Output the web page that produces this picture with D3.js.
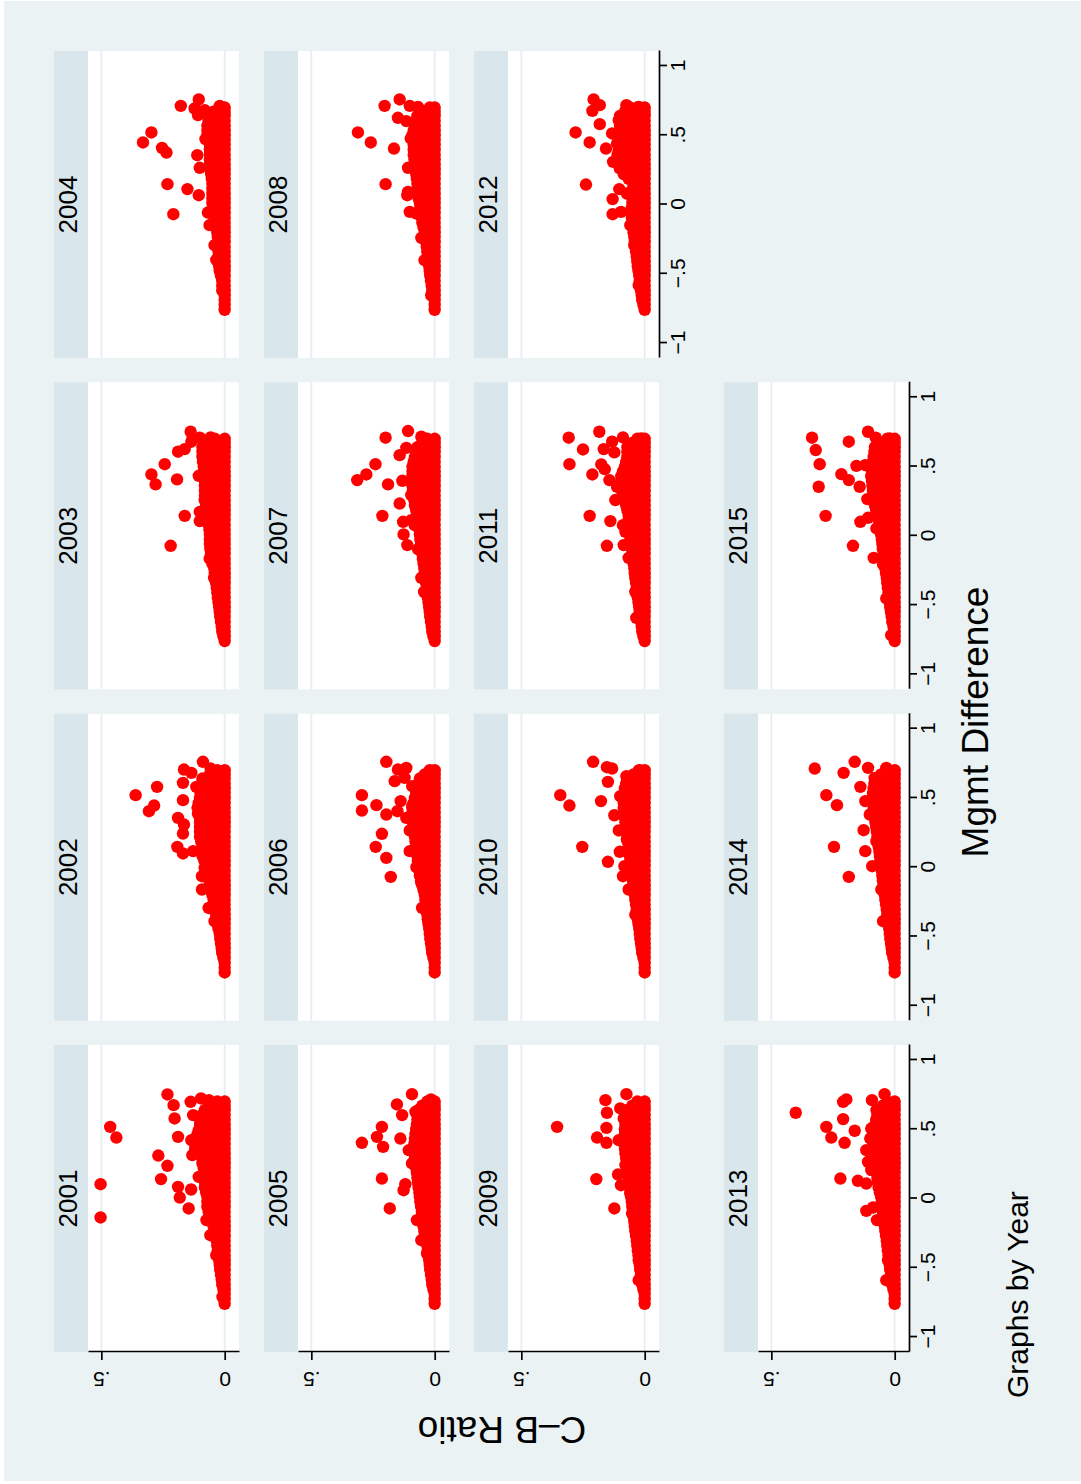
<!DOCTYPE html>
<html><head><meta charset="utf-8">
<script src="https://cdn.jsdelivr.net/npm/d3@7"></script>
<style>body{margin:0;background:#fff}svg{display:block}text{font-family:"Liberation Sans",Arial,sans-serif;fill:#000}</style>
</head><body>
<svg id="chart" width="1081" height="1484"></svg>
<script>
// ---- data: each row = [mgmt difference, C-B ratio, (more C-B ratios at the same mgmt value)...]
const years = [2001,2002,2003,2004,2005,2006,2007,2008,2009,2010,2011,2012,2013,2014,2015];
const y2001 = [[-.76,0],[-.69,0],[-.62,0,.01],[-.55,0,.015],[-.48,0,.02],[-.41,0,.025],[-.34,0,.03],[-.27,0,.035],[-.2,0,.045],[-.13,0,.03,.06],[-.06,0,.03,.07],[.01,0,.03,.07],[.08,0,.03,.08],[.15,0,.03,.08],[.22,0,.03,.06,.085],[.29,0,.03,.06,.09],[.36,0,.03,.06,.1,.12],[.43,0,.03,.06,.1,.12],[.5,0,.03,.06,.1],[.57,0,.03,.06,.1],[.64,0,.03,.08],[.7,0,.03],
[-.725,0],[-.655,0,.005],[-.585,0,.012],[-.515,0,.018],[-.445,0,.022],[-.375,0,.028],[-.305,0,.015,.032],[-.235,0,.015,.038],
[-.165,0,.015,.05],[-.095,0,.015,.045,.065],[-.025,0,.015,.045,.07],[.045,0,.015,.045,.075],[.115,0,.015,.045,.08],[.185,0,.015,.045,.08],[.255,0,.015,.045,.075,.09],[.325,0,.015,.045,.075,.1],[.395,0,.015,.045,.075,.12],[.465,0,.015,.045,.075,.11],[.535,0,.015,.045,.075,.1],[.605,0,.015,.045,.075,.09],[.67,0,.015,.045,.06],
[-.137,.503],[.103,.503],[.517,.464],[.44,.439],[.31,.269],[.236,.232],[.14,.258],[.751,.232],[.674,.207],[.578,.203],[.445,.189],[.084,.189],[.007,.182],[-.072,.146],[.698,.138],[.602,.128],[.722,.096],[.71,.064],[.065,.136],[.156,.105],[.313,.131],[.421,.135],[.493,.105],[-.156,.074],[-.265,.058],[-.409,.034],[-.71,.009]];
const y2002 = [[-.76,0],[-.69,0],[-.62,0,.01],[-.55,0,.015],[-.48,0,.02],[-.41,0,.03],[-.34,0,.035],[-.27,0,.04],[-.2,0,.03,.05],[-.13,0,.03,.06],[-.06,0,.03,.065],[.01,0,.03,.075],[.08,0,.03,.06,.09],[.15,0,.03,.06,.09],[.22,0,.03,.06,.1],[.29,0,.03,.06,.1],[.36,0,.03,.06,.1],[.43,0,.03,.06,.11],[.5,0,.03,.06,.1],[.57,0,.03,.06,.095],[.64,0,.03,.06,.09],[.7,0,.03],
[-.725,0],[-.655,0,.005],[-.585,0,.012],[-.515,0,.018],[-.445,0,.025],[-.375,0,.015,.032],[-.305,0,.015,.038],[-.235,0,.015,.045],
[-.165,0,.015,.055],[-.095,0,.015,.045,.062],[-.025,0,.015,.045,.07],[.045,0,.015,.045,.082],[.115,0,.015,.045,.075,.09],[.185,0,.015,.045,.075,.095],[.255,0,.015,.045,.075,.1],[.325,0,.015,.045,.075,.1],[.395,0,.015,.045,.075,.105],[.465,0,.015,.045,.075,.105],[.535,0,.015,.045,.075,.098],[.605,0,.015,.045,.075,.092],[.67,0,.015,.045,.06],
[.52,.361],[.58,.274],[.404,.307],[.445,.286],[.705,.165],[.681,.135],[.761,.088],[.712,.057],[.609,.169],[.58,.115],[.484,.169],[.356,.189],[.308,.165],[.243,.169],[.147,.192],[.099,.169],[.116,.128],[-.065,.092],[-.161,.092],[-.294,.065],[.385,.108],[.633,.088],[-.005,.081],[-.39,.041]];
const y2003 = [[-.76,0],[-.69,0,.01],[-.62,0,.015],[-.55,0,.02],[-.48,0,.025],[-.41,0,.03],[-.34,0,.035],[-.27,0,.04],[-.2,0,.03,.05],[-.13,0,.03,.055],[-.06,0,.03,.06],[.01,0,.03,.06],[.08,0,.03,.065],[.15,0,.03,.07],[.22,0,.03,.075],[.29,0,.03,.08],[.36,0,.03,.08],[.43,0,.03,.08],[.5,0,.03,.06,.085],[.57,0,.03,.06,.09],[.64,0,.03,.06,.09],[.7,0,.04],
[-.725,0,.005],[-.655,0,.012],[-.585,0,.018],[-.515,0,.022],[-.445,0,.028],[-.375,0,.015,.032],[-.305,0,.015,.038],[-.235,0,.015,.042],
[-.165,0,.015,.052],[-.095,0,.015,.058],[-.025,0,.015,.045,.06],[.045,0,.015,.045,.062],[.115,0,.015,.045,.068],[.185,0,.015,.045,.072],[.255,0,.015,.045,.078],[.325,0,.015,.045,.08],[.395,0,.015,.045,.08],[.465,0,.015,.045,.082],[.535,0,.015,.045,.088],[.605,0,.015,.045,.075,.09],[.67,0,.015,.045,.07],
[.751,.138],[.708,.101],[.679,.135],[.71,.057],[.607,.189],[.626,.162],[.517,.243],[.443,.297],[.371,.28],[.407,.193],[.433,.105],[.144,.162],[.173,.101],[.106,.101],[-.072,.219],[-.164,.061],[-.303,.043],[.258,.081]];
const y2004 = [[-.76,0],[-.69,0],[-.62,0,.01],[-.55,0,.01],[-.48,0,.02],[-.41,0,.025],[-.34,0,.025],[-.27,0,.025],[-.2,0,.03],[-.13,0,.04],[-.06,0,.045],[.01,0,.025,.05],[.08,0,.025,.05],[.15,0,.025,.05],[.22,0,.03,.055],[.29,0,.03,.06],[.36,0,.03,.06],[.43,0,.03,.06],[.5,0,.03,.07],[.57,0,.03,.07],[.64,0,.03,.06],[.7,0,.02],
[-.725,0],[-.655,0],[-.585,0,.01],[-.515,0,.015],[-.445,0,.022],[-.375,0,.025],[-.305,0,.025],[-.235,0,.028],
[-.165,0,.015,.035],[-.095,0,.015,.042],[-.025,0,.015,.048],[.045,0,.015,.05],[.115,0,.015,.05],[.185,0,.015,.052],[.255,0,.015,.058],[.325,0,.015,.045,.06],[.395,0,.015,.045,.06],[.465,0,.015,.045,.065],[.535,0,.015,.045,.07],[.605,0,.015,.045,.065],[.67,0,.015,.045],
[.712,.178],[.758,.105],[.52,.297],[.448,.331],[.409,.254],[.375,.236],[.147,.232],[.111,.151],[.067,.105],[-.07,.208],[-.058,.068],[-.149,.061],[.356,.111],[.265,.101],[.472,.078],[.693,.122],[.645,.108],[.681,.081],[.712,.02],[-.294,.041],[-.4,.034]];
const y2005 = [[-.76,0],[-.69,0],[-.62,0,.01],[-.55,0,.015],[-.48,0,.02],[-.41,0,.025],[-.34,0,.03],[-.27,0,.04],[-.2,0,.045],[-.13,0,.03,.05],[-.06,0,.03,.055],[.01,0,.03,.06],[.08,0,.03,.065],[.15,0,.03,.07],[.22,0,.03,.075],[.29,0,.03,.08],[.36,0,.03,.06,.085],[.43,0,.03,.08],[.5,0,.03,.075],[.57,0,.03,.07],[.64,0,.03,.065],[.7,0,.03],
[-.725,0],[-.655,0,.005],[-.585,0,.012],[-.515,0,.018],[-.445,0,.022],[-.375,0,.028],[-.305,0,.015,.032],[-.235,0,.015,.042],
[-.165,0,.015,.048],[-.095,0,.015,.052],[-.025,0,.015,.058],[.045,0,.015,.045,.062],[.115,0,.015,.045,.068],[.185,0,.015,.045,.072],[.255,0,.015,.045,.078],[.325,0,.015,.045,.082],[.395,0,.015,.045,.082],[.465,0,.015,.045,.078],[.535,0,.015,.045,.072],[.605,0,.015,.045,.068],[.67,0,.015,.05],
[.753,.092],[.679,.153],[.602,.132],[.517,.214],[.445,.234],[.402,.295],[.373,.209],[.433,.139],[.349,.105],[.144,.214],[.103,.119],[.06,.126],[-.072,.182],[-.156,.072],[-.301,.054],[.715,.015],[.626,.078],[.253,.092],[-.397,.031]];
const y2006 = [[-.76,0],[-.69,0],[-.62,0,.01],[-.55,0,.015],[-.48,0,.02],[-.41,0,.025],[-.34,0,.03],[-.27,0,.035],[-.2,0,.04],[-.13,0,.03,.05],[-.06,0,.03,.06],[.01,0,.03,.065],[.08,0,.03,.07],[.15,0,.03,.075],[.22,0,.03,.08],[.29,0,.03,.06,.085],[.36,0,.03,.06,.09],[.43,0,.03,.06,.09],[.5,0,.03,.08],[.57,0,.03,.07],[.64,0,.03,.06],[.7,0,.02],
[-.725,0],[-.655,0,.005],[-.585,0,.012],[-.515,0,.018],[-.445,0,.022],[-.375,0,.028],[-.305,0,.015,.032],[-.235,0,.015,.038],
[-.165,0,.015,.045],[-.095,0,.015,.055],[-.025,0,.015,.045,.062],[.045,0,.015,.045,.068],[.115,0,.015,.045,.072],[.185,0,.015,.045,.078],[.255,0,.015,.045,.082],[.325,0,.015,.045,.088],[.395,0,.015,.045,.075,.09],[.465,0,.015,.045,.085],[.535,0,.015,.045,.075],[.605,0,.015,.045,.065],[.67,0,.015,.04],
[.761,.196],[.705,.149],[.717,.115],[.621,.162],[.645,.122],[.585,.091],[.52,.295],[.409,.295],[.448,.236],[.38,.196],[.477,.138],[.404,.151],[.44,.091],[.241,.214],[.147,.239],[.067,.196],[-.07,.178],[.265,.101],[.116,.101],[0,.074],[-.113,.054],[-.294,.051],[.356,.115],[.645,.043]];
const y2007 = [[-.76,0],[-.69,0,.01],[-.62,0,.015],[-.55,0,.02],[-.48,0,.025],[-.41,0,.03],[-.34,0,.035],[-.27,0,.04],[-.2,0,.045],[-.13,0,.03,.05],[-.06,0,.03,.055],[.01,0,.03,.06],[.08,0,.03,.065],[.15,0,.03,.07],[.22,0,.03,.08],[.29,0,.03,.06,.085],[.36,0,.03,.06,.09],[.43,0,.03,.06,.09],[.5,0,.03,.06,.09],[.57,0,.03,.08],[.64,0,.03,.07],[.7,0,.03],
[-.725,0,.005],[-.655,0,.012],[-.585,0,.018],[-.515,0,.022],[-.445,0,.028],[-.375,0,.015,.032],[-.305,0,.015,.038],[-.235,0,.015,.042],
[-.165,0,.015,.048],[-.095,0,.015,.052],[-.025,0,.015,.058],[.045,0,.015,.045,.062],[.115,0,.015,.045,.068],[.185,0,.015,.045,.075],[.255,0,.015,.045,.082],[.325,0,.015,.045,.088],[.395,0,.015,.045,.075,.09],[.465,0,.015,.045,.075,.09],[.535,0,.015,.045,.085],[.605,0,.015,.045,.075],[.67,0,.015,.05],
[.708,.199],[.756,.108],[.715,.054],[.517,.24],[.443,.277],[.402,.314],[.371,.189],[.397,.131],[.233,.142],[.144,.212],[.101,.128],[.01,.126],[-.067,.111],[.113,.095],[-.303,.054],[-.404,.043],[.582,.142],[.635,.115],[.077,.081],[-.096,.068],[.438,.088],[.294,.095]];
const y2008 = [[-.76,0],[-.69,0],[-.62,0,.01],[-.55,0,.015],[-.48,0,.02],[-.41,0,.025],[-.34,0,.03],[-.27,0,.035],[-.2,0,.04],[-.13,0,.03,.05],[-.06,0,.03,.055],[.01,0,.03,.06],[.08,0,.03,.07],[.15,0,.03,.07],[.22,0,.03,.075],[.29,0,.03,.08],[.36,0,.03,.06,.085],[.43,0,.03,.06,.085],[.5,0,.03,.06,.09],[.57,0,.03,.08],[.64,0,.03,.07],[.7,0,.02],
[-.725,0],[-.655,0,.005],[-.585,0,.012],[-.515,0,.018],[-.445,0,.022],[-.375,0,.028],[-.305,0,.015,.032],[-.235,0,.015,.038],
[-.165,0,.015,.045],[-.095,0,.015,.052],[-.025,0,.015,.058],[.045,0,.015,.045,.065],[.115,0,.015,.045,.07],[.185,0,.015,.045,.072],[.255,0,.015,.045,.078],[.325,0,.015,.045,.082],[.395,0,.015,.045,.085],[.465,0,.015,.045,.088],[.535,0,.015,.045,.085],[.605,0,.015,.045,.075],[.67,0,.015,.045],
[.712,.203],[.758,.142],[.52,.311],[.448,.259],[.404,.165],[.147,.199],[.626,.149],[.602,.115],[.712,.101],[.705,.068],[.477,.097],[.265,.108],[.067,.111],[-.053,.101],[-.065,.074],[-.241,.054],[-.402,.041],[-.655,.014],[.091,.108],[.621,.068],[.356,.081]];
const y2009 = [[-.76,0],[-.69,0],[-.62,0,.01],[-.55,0,.015],[-.48,0,.02],[-.41,0,.025],[-.34,0,.03],[-.27,0,.035],[-.2,0,.04],[-.13,0,.045],[-.06,0,.025,.05],[.01,0,.03,.055],[.08,0,.03,.06],[.15,0,.03,.065],[.22,0,.03,.07],[.29,0,.03,.075],[.36,0,.03,.08],[.43,0,.03,.08],[.5,0,.03,.08],[.57,0,.03,.075],[.64,0,.03,.07],[.7,0,.03],
[-.725,0],[-.655,0,.005],[-.585,0,.012],[-.515,0,.018],[-.445,0,.022],[-.375,0,.028],[-.305,0,.015,.032],[-.235,0,.015,.038],
[-.165,0,.015,.042],[-.095,0,.015,.048],[-.025,0,.015,.052],[.045,0,.015,.058],[.115,0,.015,.045,.062],[.185,0,.015,.045,.068],[.255,0,.015,.045,.072],[.325,0,.015,.045,.078],[.395,0,.015,.045,.08],[.465,0,.015,.045,.08],[.535,0,.015,.045,.078],[.605,0,.015,.045,.072],[.67,0,.015,.05],
[.517,.355],[.71,.159],[.753,.074],[.619,.153],[.51,.155],[.44,.193],[.402,.155],[.14,.196],[.173,.108],[.096,.096],[-.072,.123],[.65,.099],[.578,.085],[.489,.074],[.421,.105],[.241,.078],[.036,.058],[-.108,.051],[-.265,.031],[-.445,.024],[-.59,.024]];
const y2010 = [[-.76,0],[-.69,0],[-.62,0,.01],[-.55,0,.015],[-.48,0,.02],[-.41,0,.025],[-.34,0,.03],[-.27,0,.035],[-.2,0,.04],[-.13,0,.045],[-.06,0,.025,.05],[.01,0,.03,.055],[.08,0,.03,.06],[.15,0,.03,.065],[.22,0,.03,.07],[.29,0,.03,.075],[.36,0,.03,.08],[.43,0,.03,.06,.085],[.5,0,.03,.06,.085],[.57,0,.03,.08],[.64,0,.03,.07],[.7,0,.02],
[-.725,0],[-.655,0,.005],[-.585,0,.012],[-.515,0,.018],[-.445,0,.022],[-.375,0,.028],[-.305,0,.015,.032],[-.235,0,.015,.038],
[-.165,0,.015,.042],[-.095,0,.015,.048],[-.025,0,.015,.052],[.045,0,.015,.058],[.115,0,.015,.045,.062],[.185,0,.015,.045,.068],[.255,0,.015,.045,.072],[.325,0,.015,.045,.078],[.395,0,.015,.045,.08],[.465,0,.015,.045,.085],[.535,0,.015,.045,.082],[.605,0,.015,.045,.075],[.67,0,.015,.045],
[.761,.209],[.722,.153],[.712,.132],[.616,.149],[.52,.342],[.445,.305],[.477,.177],[.147,.253],[.039,.149],[-.065,.088],[.007,.082],[.111,.101],[.265,.105],[.375,.123],[.513,.099],[.657,.074],[.698,.024],[-.161,.065],[-.342,.038],[.2,.072]];
const y2011 = [[-.76,0],[-.69,0,.01],[-.62,0,.015],[-.55,0,.02],[-.48,0,.025],[-.41,0,.03],[-.34,0,.035],[-.27,0,.04],[-.2,0,.045],[-.13,0,.03,.05],[-.06,0,.03,.055],[.01,0,.03,.06],[.08,0,.03,.065],[.15,0,.03,.065],[.22,0,.03,.075],[.29,0,.03,.06,.09],[.36,0,.03,.06,.095],[.43,0,.03,.06,.095],[.5,0,.03,.08],[.57,0,.03,.07],[.64,0,.03,.07],[.7,0,.03],
[-.725,0,.005],[-.655,0,.012],[-.585,0,.018],[-.515,0,.022],[-.445,0,.028],[-.375,0,.015,.032],[-.305,0,.015,.038],[-.235,0,.015,.042],
[-.165,0,.015,.048],[-.095,0,.015,.052],[-.025,0,.015,.058],[.045,0,.015,.045,.062],[.115,0,.015,.045,.065],[.185,0,.015,.045,.07],[.255,0,.015,.045,.082],[.325,0,.015,.045,.075,.092],[.395,0,.015,.045,.075,.095],[.465,0,.015,.045,.088],[.535,0,.015,.045,.075],[.605,0,.015,.045,.07],[.67,0,.015,.05],
[.708,.308],[.751,.184],[.623,.25],[.517,.305],[.679,.132],[.602,.123],[.71,.088],[.626,.166],[.515,.176],[.443,.212],[.481,.162],[.402,.143],[.354,.112],[.258,.119],[.144,.223],[.106,.139],[.077,.088],[-.072,.153],[-.067,.085],[-.159,.065],[.173,.061],[.029,.078],[-.404,.038],[-.592,.034],[.703,.014]];
const y2012 = [[-.76,0],[-.69,0,.01],[-.62,0,.015],[-.55,0,.02],[-.48,0,.025],[-.41,0,.03],[-.34,0,.035],[-.27,0,.04],[-.2,0,.045],[-.13,0,.05],[-.06,0,.03,.055],[.01,0,.025,.05],[.08,0,.025,.05],[.15,0,.045],[.22,0,.03,.06,.085],[.29,0,.03,.06,.1],[.36,0,.03,.06,.09,.11],[.43,0,.03,.06,.1],[.5,0,.03,.06,.1],[.57,0,.03,.06,.1],[.64,0,.03,.06,.1],[.7,0,.03,.06],
[-.725,0,.005],[-.655,0,.012],[-.585,0,.018],[-.515,0,.022],[-.445,0,.028],[-.375,0,.015,.032],[-.305,0,.015,.038],[-.235,0,.015,.042],
[-.165,0,.015,.048],[-.095,0,.015,.052],[-.025,0,.015,.052],[.045,0,.015,.05],[.115,0,.015,.048],[.185,0,.015,.045,.065],[.255,0,.015,.045,.075,.092],[.325,0,.015,.045,.075,.105],[.395,0,.015,.045,.075,.105],[.465,0,.015,.045,.075,.1],[.535,0,.015,.045,.075,.1],[.605,0,.015,.045,.075,.1],[.67,0,.015,.045,.08],
[.758,.207],[.717,.182],[.676,.212],[.58,.182],[.52,.28],[.448,.223],[.513,.132],[.404,.157],[.144,.238],[.039,.13],[-.07,.13],[-.053,.096],[.111,.103],[.308,.128],[.609,.105],[.717,.074],[.705,.024],[.44,.112],[.26,.101],[.079,.072],[-.149,.058],[-.294,.042],[-.582,.024]];
const y2013 = [[-.76,0],[-.69,0],[-.62,0,.01],[-.55,0,.015],[-.48,0,.02],[-.41,0,.025],[-.34,0,.03],[-.27,0,.035],[-.2,0,.04],[-.13,0,.045],[-.06,0,.025,.05],[.01,0,.03,.055],[.08,0,.03,.065],[.15,0,.03,.07],[.22,0,.03,.075],[.29,0,.03,.08],[.36,0,.03,.06,.085],[.43,0,.03,.06,.085],[.5,0,.03,.08],[.57,0,.03,.075],[.64,0,.03,.065],[.7,0,.03],
[-.725,0],[-.655,0,.005],[-.585,0,.012],[-.515,0,.018],[-.445,0,.022],[-.375,0,.028],[-.305,0,.015,.032],[-.235,0,.015,.038],
[-.165,0,.015,.042],[-.095,0,.015,.048],[-.025,0,.015,.052],[.045,0,.015,.045,.06],[.115,0,.015,.045,.068],[.185,0,.015,.045,.072],[.255,0,.015,.045,.078],[.325,0,.015,.045,.082],[.395,0,.015,.045,.085],[.465,0,.015,.045,.082],[.535,0,.015,.045,.078],[.605,0,.015,.045,.07],[.67,0,.015,.048],
[.619,.401],[.698,.209],[.715,.196],[.573,.209],[.517,.277],[.44,.257],[.402,.203],[.489,.162],[.71,.092],[.753,.041],[.144,.22],[.128,.149],[.108,.115],[-.089,.115],[-.065,.088],[-.156,.072],[.349,.115],[.265,.108],[.205,.095],[.505,.095],[.433,.099],[.638,.074],[.156,.061],[-.59,.034],[-.445,.027]];
const y2014 = [[-.76,0],[-.69,0],[-.62,0,.01],[-.55,0,.015],[-.48,0,.02],[-.41,0,.025],[-.34,0,.03],[-.27,0,.035],[-.2,0,.04],[-.13,0,.045],[-.06,0,.025,.05],[.01,0,.03,.055],[.08,0,.03,.06],[.15,0,.03,.065],[.22,0,.03,.07],[.29,0,.03,.075],[.36,0,.03,.08],[.43,0,.03,.06,.085],[.5,0,.03,.06,.09],[.57,0,.03,.06,.085],[.64,0,.03,.08],[.7,0,.03],
[-.725,0],[-.655,0,.005],[-.585,0,.012],[-.515,0,.018],[-.445,0,.022],[-.375,0,.028],[-.305,0,.015,.032],[-.235,0,.015,.038],
[-.165,0,.015,.042],[-.095,0,.015,.048],[-.025,0,.015,.052],[.045,0,.015,.058],[.115,0,.015,.045,.062],[.185,0,.015,.045,.068],[.255,0,.015,.045,.072],[.325,0,.015,.045,.078],[.395,0,.015,.045,.082],[.465,0,.015,.045,.088],[.535,0,.015,.045,.088],[.605,0,.015,.045,.082],[.67,0,.015,.055],
[.712,.324],[.681,.207],[.761,.162],[.717,.108],[.645,.081],[.58,.139],[.52,.277],[.448,.234],[.477,.119],[.267,.126],[.147,.246],[.116,.119],[.007,.091],[-.07,.186],[-.161,.054],[.717,.034],[.38,.101],[.188,.074],[-.39,.047]];
const y2015 = [[-.76,0],[-.69,0],[-.62,0,.01],[-.55,0,.015],[-.48,0,.02],[-.41,0,.025],[-.34,0,.03],[-.27,0,.035],[-.2,0,.04],[-.13,0,.045],[-.06,0,.025,.05],[.01,0,.03,.055],[.08,0,.03,.06],[.15,0,.03,.07],[.22,0,.03,.08],[.29,0,.03,.06,.085],[.36,0,.03,.06,.09],[.43,0,.03,.06,.095],[.5,0,.03,.06,.09],[.57,0,.03,.06,.085],[.64,0,.03,.08],[.7,0,.03],
[-.725,0],[-.655,0,.005],[-.585,0,.012],[-.515,0,.018],[-.445,0,.022],[-.375,0,.028],[-.305,0,.015,.032],[-.235,0,.015,.038],
[-.165,0,.015,.042],[-.095,0,.015,.048],[-.025,0,.015,.052],[.045,0,.015,.058],[.115,0,.015,.045,.065],[.185,0,.015,.045,.075],[.255,0,.015,.045,.082],[.325,0,.015,.045,.088],[.395,0,.015,.045,.075,.092],[.465,0,.015,.045,.075,.092],[.535,0,.015,.045,.088],[.605,0,.015,.045,.082],[.67,0,.015,.055],
[.708,.335],[.619,.32],[.517,.304],[.354,.308],[.144,.28],[.679,.186],[.751,.108],[.708,.077],[.505,.155],[.51,.119],[.445,.216],[.402,.186],[.354,.142],[.265,.111],[.101,.139],[.13,.108],[-.072,.169],[-.159,.085],[-.207,.047],[-.452,.034],[-.717,.014],[.619,.074],[.558,.081],[.703,.02],[.053,.074],[.173,.061]];
const cbTicks = [0, 0.5];
const cbTickLabels = ["0", ".5"];
const mgmtTicks = [-1, -0.5, 0, 0.5, 1];
const mgmtTickLabels = ["\u22121", "\u2212.5", "0", ".5", "1"];
const yTitle = "C\u2013B Ratio";
const xTitle = "Mgmt Difference";
const noteText = "Graphs by Year";

const yearData = {2001:y2001,2002:y2002,2003:y2003,2004:y2004,2005:y2005,2006:y2006,2007:y2007,2008:y2008,
  2009:y2009,2010:y2010,2011:y2011,2012:y2012,2013:y2013,2014:y2014,2015:y2015};

// ---- layout (drawn in landscape orientation, then turned a quarter turn counter-clockwise)
const BG = "#EAF2F3", STRIP = "#D9E6EB", GRID = "#E6EEF1", RED = "#FF0000";
const panelW = 307, stripH = 34, plotH = 151;
const colLeft = [132, 463.3, 794.7, 1126];
const rowTop = [54, 264, 474, 724];

const svg = d3.select("#chart");
svg.append("rect").attr("width",1081).attr("height",1484).attr("fill","#fff");
svg.append("rect").attr("x",4).attr("y",1).attr("width",1077).attr("height",1480).attr("fill",BG);

const g = svg.append("g").attr("transform","translate(0,1484) rotate(-90)");

const x = d3.scaleLinear().domain([-1.108, 1.108]).range([0, panelW]);
const y = d3.scaleLinear().domain([-0.058, 0.554]).range([plotH, 0]);

years.forEach((yr, k) => {
  const i = Math.floor(k / 4), j = k % 4;
  const px = colLeft[j], py = rowTop[i];
  const pg = g.append("g").attr("transform", `translate(${px},${py})`);
  pg.append("rect").attr("width", panelW).attr("height", stripH).attr("fill", STRIP);
  pg.append("text").attr("x", panelW/2).attr("y", 23).attr("text-anchor","middle")
    .attr("font-size", 26).text(yr);
  const plot = pg.append("g").attr("transform", `translate(0,${stripH})`);
  plot.append("rect").attr("width", panelW).attr("height", plotH).attr("fill", "#fff");
  plot.selectAll("line.grid").data(cbTicks).join("line").attr("class","grid")
    .attr("x1", 0).attr("x2", panelW).attr("y1", d => y(d)).attr("y2", d => y(d))
    .attr("stroke", GRID).attr("stroke-width", 1.8);
  const pts = yearData[yr].flatMap(r => r.slice(1).map(c => [r[0], c]));
  plot.selectAll("circle").data(pts).join("circle")
    .attr("cx", d => x(d[0])).attr("cy", d => y(d[1])).attr("r", 6.2).attr("fill", RED);

  if (j === 0) {
    const ax = plot.append("g").call(d3.axisLeft(y).tickValues(cbTicks)
      .tickFormat((d, n) => cbTickLabels[n]).tickSize(8).tickSizeOuter(0));
    ax.select(".domain").attr("stroke","#000").attr("stroke-width",1.7);
    ax.selectAll(".tick line").attr("stroke","#000").attr("stroke-width",1.7);
    ax.selectAll(".tick text").attr("x", null).attr("dy", null).attr("y", null)
      .attr("text-anchor","middle").attr("font-size",21)
      .attr("font-family",'"Liberation Sans",Arial,sans-serif').attr("fill","#000")
      .attr("transform","translate(-20,0) rotate(-90)");
  }
  if (i === 3 || (i === 2 && j === 3)) {
    const ax = plot.append("g").attr("transform", `translate(0,${plotH})`)
      .call(d3.axisBottom(x).tickValues(mgmtTicks)
      .tickFormat((d, n) => mgmtTickLabels[n]).tickSize(8).tickSizeOuter(0));
    ax.select(".domain").attr("stroke","#000").attr("stroke-width",1.7);
    ax.selectAll(".tick line").attr("stroke","#000").attr("stroke-width",1.7);
    ax.selectAll(".tick text").attr("y", 26).attr("dy", null).attr("font-size",21)
      .attr("font-family",'"Liberation Sans",Arial,sans-serif').attr("fill","#000");
  }
});

g.append("text").attr("x", 762).attr("y", 988).attr("text-anchor","middle")
  .attr("font-size", 37).text(xTitle);
g.append("text").attr("transform","translate(67,502) rotate(-90)").attr("text-anchor","middle")
  .attr("font-size", 37).text(yTitle);
g.append("text").attr("x", 86).attr("y", 1028).attr("font-size", 30).text(noteText);
</script>
</body></html>
